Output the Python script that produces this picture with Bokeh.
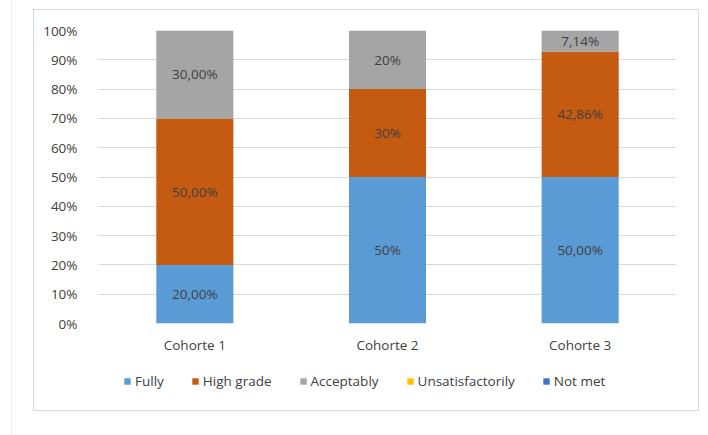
from bokeh.plotting import figure
from bokeh.layouts import column
from bokeh.models import (ColumnDataSource, FactorRange, NumeralTickFormatter, Legend,
                          LegendItem, FixedTicker, LabelSet)
from bokeh.core.properties import value
from bokeh.embed import file_html
from bokeh.resources import INLINE

cohorts = ["Cohorte 1", "Cohorte 2", "Cohorte 3"]
series = ["Fully", "High grade", "Acceptably", "Unsatisfactorily", "Not met"]
fully = [0.20, 0.50, 0.50]
high_grade = [0.50, 0.30, 0.4286]
acceptably = [0.30, 0.20, 0.0714]
unsatisfactorily = [0.0, 0.0, 0.0]
not_met = [0.0, 0.0, 0.0]
label_fully = ["20,00%", "50%", "50,00%"]
label_high = ["50,00%", "30%", "42,86%"]
label_acc = ["30,00%", "20%", "7,14%"]
colors = ["#5B9BD5", "#C55A11", "#A5A5A5", "#FFC000", "#4472C4"]

FONT = "Open Sans"
TXT = "#404040"
FS = "13.5px"

p = figure(width=664, height=355, x_range=FactorRange(*cohorts, range_padding=0),
           y_range=(0, 1), output_backend="svg", toolbar_location=None,
           min_border_left=64, min_border_right=22, min_border_top=20,
           min_border_bottom=42)
p.outline_line_color = None
p.background_fill_color = "white"
p.border_fill_color = "white"

data = {"x": cohorts, "Fully": fully, "High grade": high_grade, "Acceptably": acceptably,
        "Unsatisfactorily": unsatisfactorily, "Not met": not_met}
src = ColumnDataSource(data)
p.vbar_stack(series, x="x", width=0.4, color=colors, source=src, line_color=None)

def mids(*layers):
    base = [0.0] * len(cohorts)
    out = []
    for layer in layers:
        out.append([b + v / 2 for b, v in zip(base, layer)])
        base = [b + v for b, v in zip(base, layer)]
    return out

m1, m2, m3 = mids(fully, high_grade, acceptably)
lab_src = ColumnDataSource({"x": cohorts * 3, "y": m1 + m2 + m3,
                            "t": label_fully + label_high + label_acc})
p.add_layout(LabelSet(x="x", y="y", text="t", source=lab_src, text_align="center",
                      text_baseline="middle", text_font=value(FONT), text_font_size=FS,
                      text_color=TXT))

p.yaxis.ticker = FixedTicker(ticks=[i / 10 for i in range(11)])
p.yaxis.formatter = NumeralTickFormatter(format="0%")
for ax in (p.xaxis, p.yaxis):
    ax.axis_line_color = None
    ax.major_tick_line_color = None
    ax.minor_tick_line_color = None
    ax.major_label_text_font = FONT
    ax.major_label_text_font_size = FS
    ax.major_label_text_color = TXT
p.yaxis.major_label_standoff = 15
p.xaxis.major_label_standoff = 6
p.xgrid.grid_line_color = None
p.ygrid.grid_line_color = "#D9D9D9"
p.ygrid.grid_line_width = 1

# legend strip: same stacked bars, kept out of its visible range, only feed the legend
lg = figure(width=664, height=45, x_range=FactorRange(*cohorts), y_range=(2, 3),
            output_backend="svg", toolbar_location=None, x_axis_type=None, y_axis_type=None,
            min_border_left=0, min_border_right=0, min_border_top=0, min_border_bottom=0)
lg.outline_line_color = None
lg.grid.grid_line_color = None
lrs = lg.vbar_stack(series, x="x", width=0.4, color=colors, source=src, line_color=None)
items = [LegendItem(label=s, renderers=[r]) for s, r in zip(series, lrs)]
legend = Legend(items=items, orientation="horizontal", location=(25, 20),
                border_line_color=None, background_fill_alpha=0,
                label_text_font=FONT, label_text_font_size=FS,
                label_text_color=TXT, glyph_width=8, glyph_height=8,
                spacing=27, label_standoff=4, padding=0, margin=0)
lg.add_layout(legend, "center")

inner = column(p, lg, spacing=0, styles={"outline": "1px solid #D9D9D9"})
layout = column(inner, styles={"margin-left": "11px", "padding-left": "22px",
                               "padding-top": "10px", "border-left": "1px solid #EEEBE0",
                               "height": "435px"})

open("out.html", "w").write(file_html(layout, INLINE))
